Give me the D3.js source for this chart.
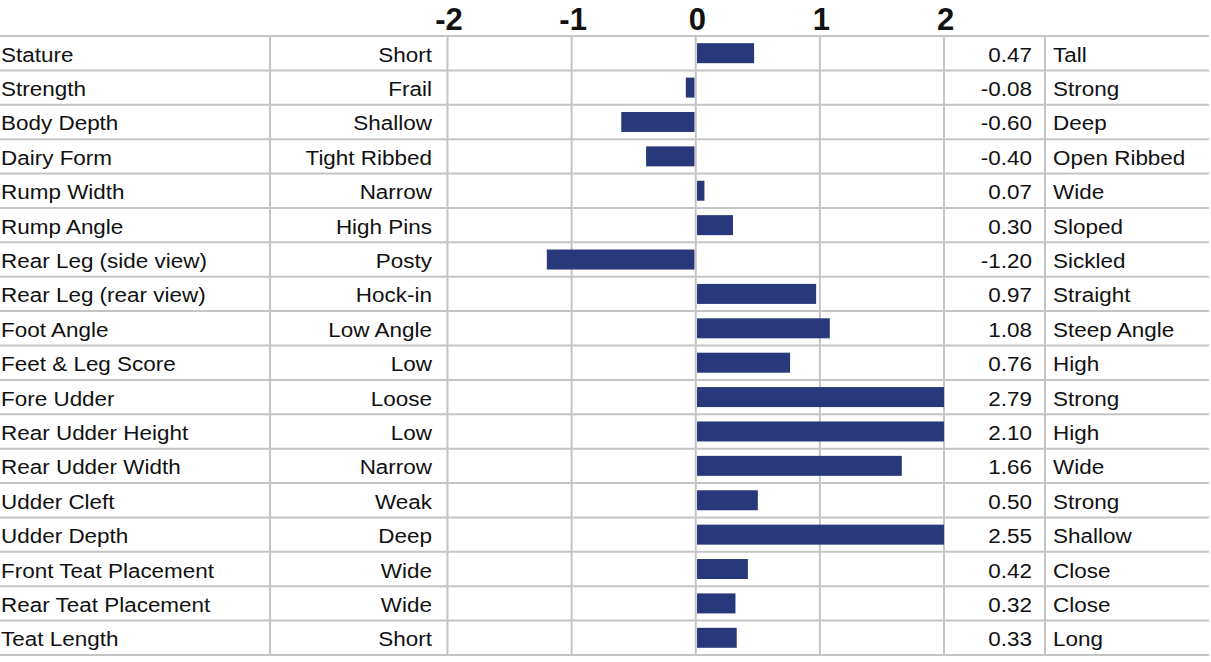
<!DOCTYPE html>
<html>
<head>
<meta charset="utf-8">
<script src="https://cdn.jsdelivr.net/npm/d3@7"></script>
<style>
  html, body { margin: 0; padding: 0; background: #fff; }
  svg { display: block; }
  text { font-family: "Liberation Sans", Arial, sans-serif; fill: #111; }
</style>
</head>
<body>
<svg id="chart" width="1211" height="662"></svg>
<script>
const traits = ["Stature","Strength","Body Depth","Dairy Form","Rump Width","Rump Angle",
  "Rear Leg (side view)","Rear Leg (rear view)","Foot Angle","Feet & Leg Score","Fore Udder",
  "Rear Udder Height","Rear Udder Width","Udder Cleft","Udder Depth","Front Teat Placement",
  "Rear Teat Placement","Teat Length"];
const lowLabels = ["Short","Frail","Shallow","Tight Ribbed","Narrow","High Pins","Posty","Hock-in",
  "Low Angle","Low","Loose","Low","Narrow","Weak","Deep","Wide","Wide","Short"];
const highLabels = ["Tall","Strong","Deep","Open Ribbed","Wide","Sloped","Sickled","Straight",
  "Steep Angle","High","Strong","High","Wide","Strong","Shallow","Close","Close","Long"];
const values = [0.47,-0.08,-0.60,-0.40,0.07,0.30,-1.20,0.97,1.08,0.76,2.79,2.10,1.66,0.50,2.55,0.42,0.32,0.33];
const tickValues = [-2,-1,0,1,2];
const tickLabels = ["-2","-1","0","1","2"];

(function () {
const svg = d3.select("#chart");
const gridTop = 36, gridBottom = 655;
const x = d3.scaleLinear().domain([-2, 2]).range([447.5, 944]);
const y = d3.scaleBand().domain(traits).range([gridTop, gridBottom]).paddingInner(0).paddingOuter(0);
const gridColor = "#c4c4c4";
const fontSize = 21;
const stretch = 1.07;

// horizontal grid lines
const hLines = [gridTop].concat(traits.map(t => y(t) + y.bandwidth()));
svg.append("g").selectAll("line").data(hLines).join("line")
  .attr("x1", 0).attr("x2", 1209)
  .attr("y1", d => d).attr("y2", d => d)
  .attr("stroke", gridColor).attr("stroke-width", 2);

// vertical lines: column dividers and axis gridlines
const vLines = [270, 1045].concat(tickValues.map(v => x(v)));
svg.append("g").selectAll("line").data(vLines).join("line")
  .attr("x1", d => d).attr("x2", d => d)
  .attr("y1", gridTop).attr("y2", gridBottom)
  .attr("stroke", gridColor).attr("stroke-width", 2);

// axis tick labels
const axis = d3.axisTop(x).tickValues(tickValues).tickSize(0).tickPadding(0)
  .tickFormat((d, i) => tickLabels[i]);
const axG = svg.append("g").attr("transform", "translate(1,30)").call(axis);
axG.select(".domain").remove();
axG.selectAll("text")
  .attr("font-size", 31).attr("font-weight", "bold")
  .attr("font-family", "'Liberation Sans', Arial, sans-serif")
  .attr("fill", "#111").attr("dy", 0);

// bars
const bh = 20;
const clamp = v => Math.max(-2, Math.min(2, v));
svg.append("g").selectAll("rect").data(traits).join("rect")
  .attr("x", (t, i) => values[i] >= 0 ? x(0) + 1.3 : x(clamp(values[i])))
  .attr("width", (t, i) => Math.max(0, Math.abs(x(clamp(values[i])) - x(0)) - 1.3))
  .attr("y", t => y(t) + (y.bandwidth() - bh) / 2)
  .attr("height", bh)
  .attr("fill", "#27397a");

function addText(xPos, anchor, accessor) {
  svg.append("g").selectAll("text").data(traits).join("text")
    .attr("transform", t => `translate(${xPos},${y(t) + y.bandwidth() / 2 + 8.5}) scale(${stretch},1)`)
    .attr("text-anchor", anchor)
    .attr("font-size", fontSize)
    .text((t, i) => accessor(t, i));
}
addText(1, "start", t => t);
addText(432, "end", (t, i) => lowLabels[i]);
addText(1032, "end", (t, i) => values[i].toFixed(2));
addText(1053, "start", (t, i) => highLabels[i]);
})();
</script>
</body>
</html>
